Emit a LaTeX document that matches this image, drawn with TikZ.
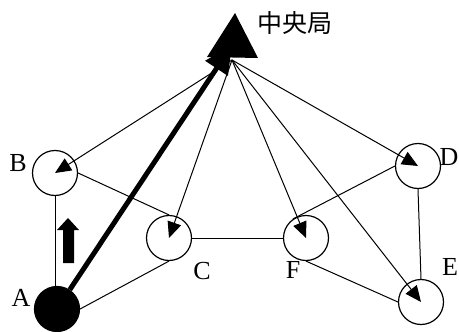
\documentclass[tikz,border=0pt]{standalone}
\usepackage{fontspec}
\setmainfont{Liberation Serif}
\newfontfamily\cjk{Noto Sans CJK SC}
\usetikzlibrary{arrows.meta}

\begin{document}
\begin{tikzpicture}[x=1pt,y=-1pt,
		line width=1pt,
		tip/.style={-{Triangle[length=16pt,width=14pt]}},
		lbl/.style={font=\fontsize{26}{30}\selectfont,inner sep=0pt}]
	\useasboundingbox (0,0) rectangle (459,332);

	\begin{scope}[every node/.style={circle,draw,line width=1.2pt,minimum size=45pt,inner sep=0pt}]
		\node (A) at (57,309) [fill=black] {};
		\node (B) at (55,173) {};
		\node (C) at (169,238) {};
		\node (F) at (306,238) {};
		\node (D) at (418,166) {};
		\node (E) at (421,302) {};
	\end{scope}

	\node[lbl] (lA) at (21,298) {A};
	\node[lbl] (lB) at (18,163) {B};
	\node[lbl] (lC) at (202,271) {C};
	\node[lbl] (lF) at (293,270) {F};
	\node[lbl] (lD) at (449,157) {D};
	\node[lbl] (lE) at (450,267) {E};

	% central station
	\fill (235,13) -- (258,58) -- (207,57) -- cycle;
	\coordinate (hq) at (232,60);
	\coordinate (top) at (232,45);
	\node[font=\cjk\fontsize{25}{29}\selectfont,inner sep=0pt] (hqname) at (295,23) {中央局};

	% links between stations
	\draw (B.south) -- (B.south |- A.north);
	\draw (B.east) -- (C.north);
	\draw (A.east) -- (C.south);
	\draw (C.east) -- (F.west);
	\draw (D.west) -- (F.125);
	\draw (F.south) -- (E.west);
	\draw (D.south) -- (E.north);

	% broadcast from the central station
	\begin{scope}[tip]
		\draw (hq) -- (B.center);
		\draw (hq) -- (C.center);
		\draw (hq) -- (F.center);
		\draw (hq) -- (D.center);
		\draw (hq) -- (E.center);
	\end{scope}

	\draw[line width=5pt,-{Triangle[length=28pt,width=26pt]}] (A) -- (top);

	% upward arrow next to A
	\fill (57,230) -- (68,218) -- (79,230) -- (74,230) -- (74,263) -- (63,263) -- (63,230) -- cycle;
\end{tikzpicture}
\end{document}
